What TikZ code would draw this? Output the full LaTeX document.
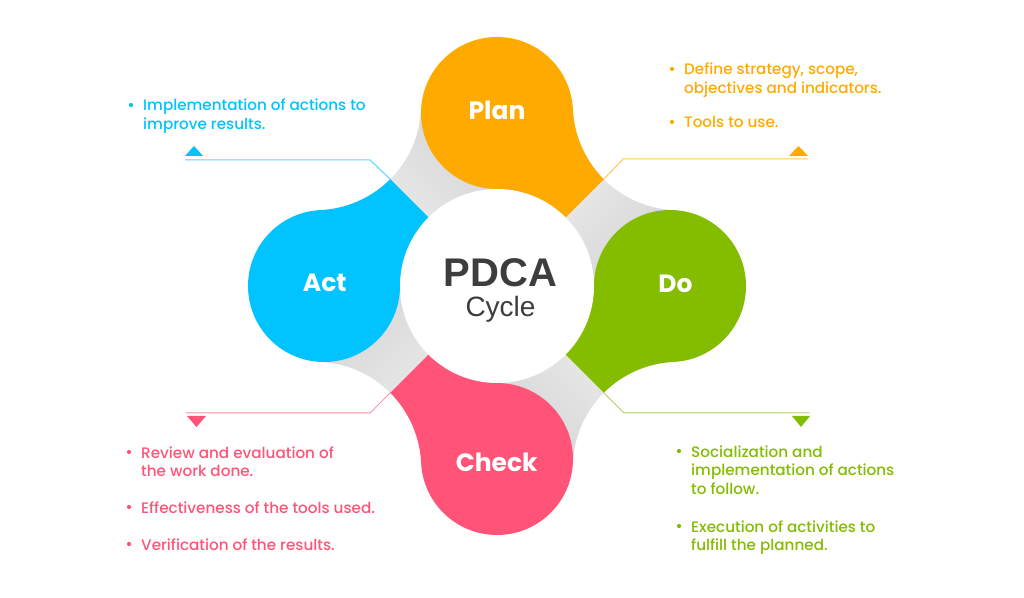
\documentclass[tikz,border=0pt]{standalone}
\usepackage{fontspec}
\setmainfont{Poppins Medium}
\newfontfamily\labelfont{Poppins}
\newfontfamily\arialfont{Liberation Sans}
\usetikzlibrary{calc}
\definecolor{planc}{HTML}{FFAA00}
\definecolor{doc}{HTML}{84BC00}
\definecolor{checkc}{HTML}{FF5478}
\definecolor{actc}{HTML}{00C3FF}
\definecolor{centertext}{HTML}{3D3D3D}
\definecolor{bandlight}{HTML}{F4F4F4}
\definecolor{banddark}{HTML}{D6D6D6}
\tikzset{
  petallabel/.style={text=white, font=\labelfont\fontsize{25}{30}\selectfont\bfseries, anchor=base, inner sep=0pt},
  bullettext/.style={anchor=base west, inner sep=0pt, align=left, font=\fontsize{15.2}{18.5}\selectfont},
  leader/.style={line width=1pt},
  bulletdot/.style={radius=2.1},
}
\begin{document}
\begin{tikzpicture}[x=1pt,y=1pt]
\useasboundingbox (0,0) rectangle (1024,597);
\fill[white] (0,0) rectangle (1024,597);
\coordinate (C) at (497,311);
\coordinate (pPlan) at (497,484);
\coordinate (pDo) at (670,311);
\coordinate (pCheck) at (497,138);
\coordinate (pAct) at (324,311);
% grey connecting bands
\foreach \phi/\own/\oth in {45/pPlan/pDo, 135/pAct/pPlan, 225/pCheck/pAct, 315/pDo/pCheck}{
  \path[shade, shading=axis, top color=bandlight, bottom color=banddark, shading angle=\phi]
    (C) -- (\own) -- ($(C)+(\phi:256.8)+(\phi+137.7:105.8)$)
    arc[start angle=\phi+137.7, end angle=\phi+222.3, radius=105.8] -- (\oth) -- cycle;
}
% coloured tails
\foreach \phi/\own/\col in {45/pPlan/planc, 135/pAct/actc, 225/pCheck/checkc, 315/pDo/doc}{
  \fill[\col] (C) -- (\own) -- ($(C)+(\phi:256.8)+(\phi+137.7:105.8)$)
    arc[start angle=\phi+137.7, end angle=\phi+180, radius=105.8] -- cycle;
}
% petal heads
\fill[planc] (pPlan) circle[radius=76];
\fill[doc] (pDo) circle[radius=76];
\fill[checkc] (pCheck) circle[radius=76];
\fill[actc] (pAct) circle[radius=76];
\fill[white] (C) circle[radius=97];
% labels
\node[petallabel] (plan) at (497,477.7) {Plan};
\node[petallabel] (do) at (675.5,304.3) {Do};
\node[petallabel] (check) at (496.7,125.3) {Check};
\node[petallabel] (act) at (324.7,305) {Act};
\node[font=\arialfont\bfseries\fontsize{40}{48}\selectfont, text=centertext, anchor=base, inner sep=0pt] (pdca) at (500.5,310) {PDCA};
\node[font=\arialfont\fontsize{28}{32}\selectfont, text=centertext, anchor=base, inner sep=0pt] (cycle) at (500.5,280) {Cycle};
% leader lines
\coordinate (ulx) at (390.2,417.8);
\coordinate (urx) at (603.8,417.8);
\coordinate (llx) at (390.2,204.2);
\coordinate (lrx) at (603.8,204.2);
\coordinate (ulk) at (370,437);
\coordinate (ule) at (185,437);
\coordinate (urk) at (623,438);
\coordinate (ure) at (808,438);
\coordinate (llk) at (370,184);
\coordinate (lle) at (186,184);
\coordinate (lrk) at (624,184);
\coordinate (lre) at (809,184);
\draw[leader, actc!65] (ulx) -- (ulk) -- (ule);
\draw[leader, planc!65] (urx) -- (urk) -- (ure);
\draw[leader, checkc!65] (llx) -- (llk) -- (lle);
\draw[leader, doc!65] (lrx) -- (lrk) -- (lre);
% markers
\fill[actc] (185,441) -- (203,441) -- (194,451) -- cycle;
\fill[planc] (789,441) -- (808,441) -- (798.5,451) -- cycle;
\fill[checkc] (187,181) -- (206,181) -- (196.5,170) -- cycle;
\fill[doc] (792,181) -- (810,181) -- (801,170) -- cycle;
% texts (anchor = baseline of the last line)
\node[bullettext, text=actc] (acttxt) at (143,467.5) {Implementation of actions to\\improve results.};
\fill[actc] (131,492) circle[bulletdot];
\node[bullettext, text=planc] (plantxta) at (684,503.5) {Define strategy, scope,\\objectives and indicators.};
\node[bullettext, text=planc] (plantxtb) at (684,469) {Tools to use.};
\fill[planc] (672,528) circle[bulletdot];
\fill[planc] (672,475) circle[bulletdot];
\node[bullettext, text=checkc] (checktxta) at (141,120.5) {Review and evaluation of\\the work done.};
\node[bullettext, text=checkc] (checktxtb) at (141,84) {Effectiveness of the tools used.};
\node[bullettext, text=checkc] (checktxtc) at (141,47) {Verification of the results.};
\fill[checkc] (129,145) circle[bulletdot];
\fill[checkc] (129,90) circle[bulletdot];
\fill[checkc] (129,53) circle[bulletdot];
\node[bullettext, text=doc] (dotxta) at (691,103) {Socialization and\\implementation of actions\\to follow.};
\node[bullettext, text=doc] (dotxtb) at (691,46.5) {Execution of activities to\\fulfill the planned.};
\fill[doc] (679,146) circle[bulletdot];
\fill[doc] (679,71) circle[bulletdot];
\end{tikzpicture}
\end{document}
